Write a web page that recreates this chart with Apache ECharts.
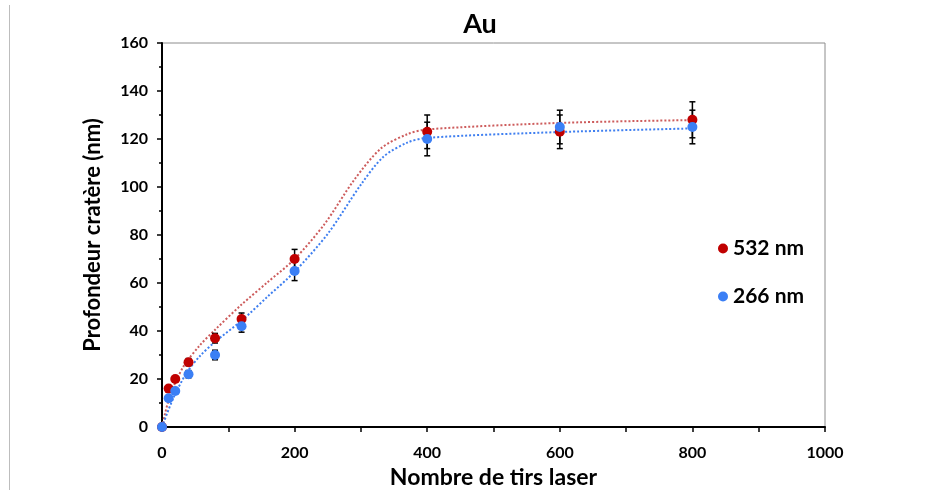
<!DOCTYPE html>
<html><head><meta charset="utf-8">
<script src="https://cdn.jsdelivr.net/npm/echarts@6/dist/echarts.min.js"></script>
<style>html,body{margin:0;padding:0;background:#fff}#c{width:935px;height:490px}</style>
</head><body><div id="c"></div>
<script>
// ---- data ----
const shots = [0, 10, 20, 40, 80, 120, 200, 400, 600, 800];
const depth532 = [0, 16, 20, 27, 37, 45, 70, 123, 123, 128];
const depth266 = [0, 12, 15, 22, 30, 42, 65, 120, 125, 125];
const err532 = [0, 1, 1, 1.5, 2, 2.5, 4, 7, 7, 7.5];
const err266 = [0, 1, 1, 1.5, 2, 2.5, 4, 7, 7, 7];
// trend curves
const trendX532 = [0, 12, 32, 57, 80, 120, 160, 200, 245, 290, 330, 370, 400, 600, 800];
const trendY532 = [0, 13, 25, 34, 40.5, 51, 60.5, 70, 84.5, 103, 116, 122, 124, 126.7, 127.9];
const trendX266 = [0, 17, 37, 57, 80, 120, 160, 200, 250, 300, 334, 370, 400, 600, 800];
const trendY266 = [0, 12, 22.5, 29.5, 35.5, 44.3, 54.5, 64.7, 80.5, 101, 112.6, 118.5, 120.5, 122.9, 124.4];
const xTicks = [0, 200, 400, 600, 800, 1000];
const yTicks = [0, 20, 40, 60, 80, 100, 120, 140, 160];
const seriesNames = ['532 nm', '266 nm'];

const FONT = 'Lato, "DejaVu Sans", sans-serif';
const RED = '#C00000', BLUE = '#3B7FF5';
const RED_LINE = '#CD5C5C', BLUE_LINE = '#3F7FF0';

const zip = (a, b) => a.map((v, i) => [v, b[i]]);
const zip3 = (a, b, c) => a.map((v, i) => [v, b[i], c[i]]);

function errRender(params, api) {
  const x = api.value(0), y = api.value(1), e = api.value(2);
  const t = api.coord([x, y + e]), b = api.coord([x, y - e]);
  const w = 3;
  const st = { stroke: '#000', lineWidth: 1.5 };
  return { type: 'group', children: [
    { type: 'line', shape: { x1: t[0], y1: t[1], x2: b[0], y2: b[1] }, style: st },
    { type: 'line', shape: { x1: t[0] - w, y1: t[1], x2: t[0] + w, y2: t[1] }, style: st },
    { type: 'line', shape: { x1: b[0] - w, y1: b[1], x2: b[0] + w, y2: b[1] }, style: st }
  ]};
}

const chart = echarts.init(document.getElementById('c'), null, { renderer: 'canvas' });
chart.setOption({
  animation: false,
  backgroundColor: '#fff',
  textStyle: { fontFamily: FONT },
  title: { text: 'Au', left: 475, top: 6, textAlign: 'center',
    textStyle: { fontFamily: FONT, fontWeight: 'bold', fontSize: 27, color: '#000' } },
  graphic: [{ type: 'line', shape: { x1: 9.5, y1: 5, x2: 9.5, y2: 490 }, style: { stroke: '#bdbdbd', lineWidth: 1 } }],
  legend: {
    data: seriesNames, orient: 'vertical', left: 713, top: 233, itemGap: 27,
    itemWidth: 10, itemHeight: 10, icon: 'circle',
    textStyle: { fontFamily: FONT, fontWeight: 'bold', fontSize: 21, color: '#000' }
  },
  grid: { left: 162, right: 110, top: 43, bottom: 63, show: true, borderColor: '#8c8c8c', borderWidth: 1,
    outerBoundsMode: 'none', containLabel: false },
  xAxis: {
    type: 'value', min: 0, max: 1000, interval: 200,
    name: 'Nombre de tirs laser', nameLocation: 'middle', nameGap: 39,
    nameTextStyle: { fontFamily: FONT, fontWeight: 'bold', fontSize: 23, color: '#000' },
    axisLine: { lineStyle: { color: '#000', width: 2 } },
    axisTick: { show: true, length: 5, lineStyle: { color: '#000', width: 1.5 } },
    minorTick: { show: true, splitNumber: 2, length: 5, lineStyle: { color: '#000', width: 1.5 } },
    splitLine: { show: false },
    axisLabel: { fontFamily: FONT, fontWeight: 'bold', fontSize: 16, color: '#000', margin: 18,
      formatter: v => xTicks.includes(v) ? String(v) : '' }
  },
  yAxis: {
    type: 'value', min: 0, max: 160, interval: 20,
    name: 'Profondeur cratère (nm)', nameLocation: 'middle', nameGap: 58, nameRotate: 90,
    nameTextStyle: { fontFamily: FONT, fontWeight: 'bold', fontSize: 22, color: '#000' },
    axisLine: { lineStyle: { color: '#000', width: 2 } },
    axisTick: { show: true, length: 5, lineStyle: { color: '#000', width: 1.5 } },
    minorTick: { show: true, splitNumber: 2, length: 3, lineStyle: { color: '#000', width: 1.5 } },
    splitLine: { show: false },
    axisLabel: { fontFamily: FONT, fontWeight: 'bold', fontSize: 16, color: '#000', margin: 14,
      formatter: v => yTicks.includes(v) ? String(v) : '' }
  },
  series: [
    { name: 'trend532', type: 'line', data: zip(trendX532, trendY532), smooth: 0.3,
      showSymbol: false, symbol: 'none', lineStyle: { color: RED_LINE, width: 2, type: [2, 2] }, z: 2, silent: true },
    { name: 'trend266', type: 'line', data: zip(trendX266, trendY266), smooth: 0.3,
      showSymbol: false, symbol: 'none', lineStyle: { color: BLUE_LINE, width: 2, type: [2, 2] }, z: 2, silent: true },
    { name: 'err532', type: 'custom', data: zip3(shots, depth532, err532), renderItem: errRender, z: 3, silent: true },
    { name: 'err266', type: 'custom', data: zip3(shots, depth266, err266), renderItem: errRender, z: 3, silent: true },
    { name: seriesNames[0], type: 'scatter', data: zip(shots, depth532), symbolSize: 10,
      itemStyle: { color: RED, opacity: 1 }, z: 4 },
    { name: seriesNames[1], type: 'scatter', data: zip(shots, depth266), symbolSize: 10,
      itemStyle: { color: BLUE, opacity: 1 }, z: 5 }
  ]
});
</script></body></html>
